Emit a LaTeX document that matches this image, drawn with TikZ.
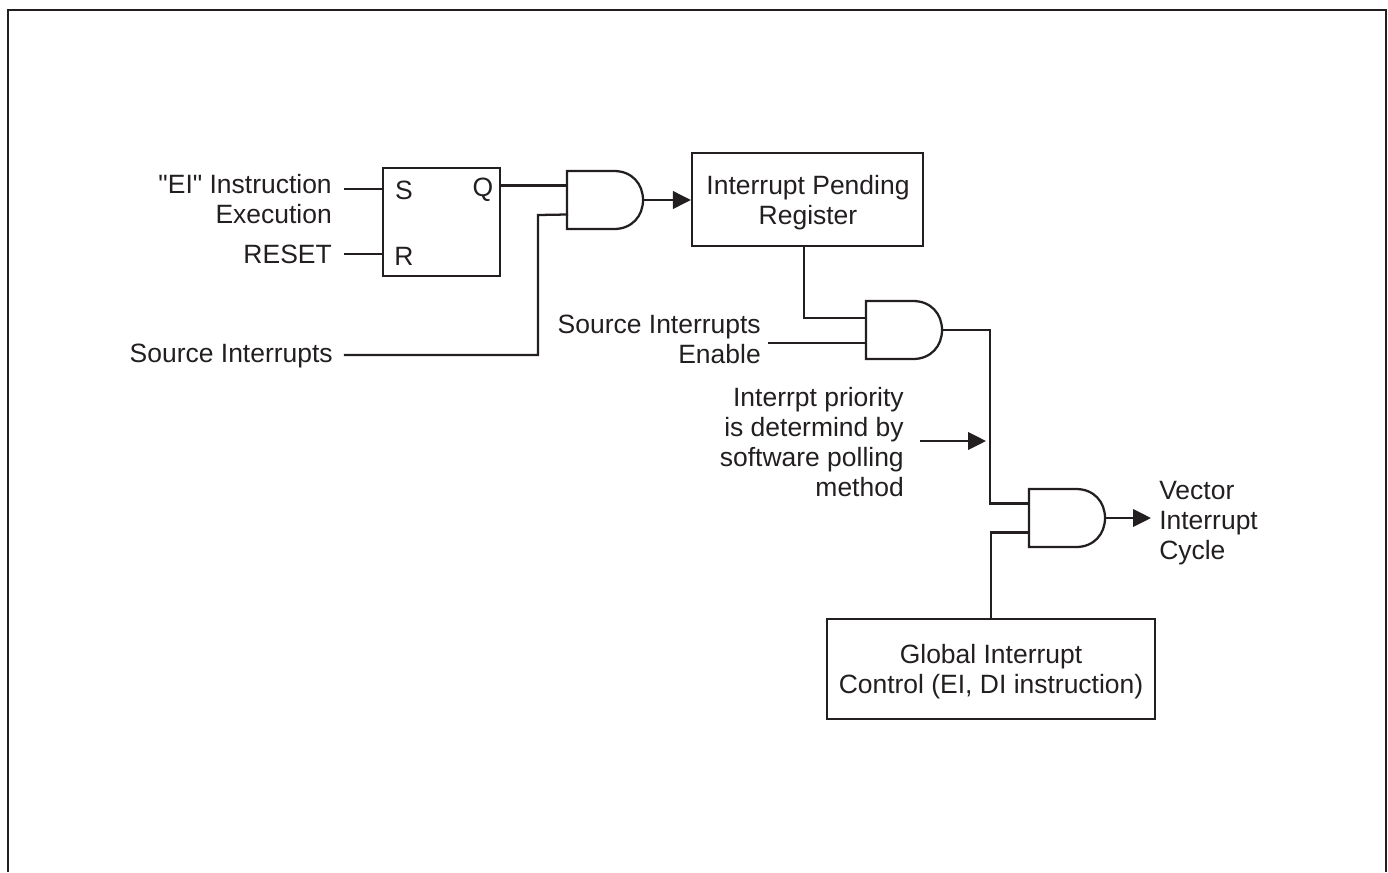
\documentclass[tikz,border=0pt]{standalone}
\usepackage{fontspec}
\setmainfont[Ligatures=TeXOff]{Liberation Sans}
\usetikzlibrary{arrows.meta}
\definecolor{ink}{HTML}{231F20}
\tikzset{
  wire/.style={draw=ink,line width=1.7pt,line cap=rect},
  arrowwire/.style={draw=ink,line width=1.7pt,-{Triangle[length=13.5pt,width=13.2pt]}},
  framel/.style={draw=ink,line width=1.8pt},
  boxn/.style={draw=ink,line width=1.7pt,fill=white,inner sep=0pt,align=center,text=ink,font=\lab},
  lab/.style={inner sep=0pt,text=ink,font=\lab},
}
\newcommand{\lab}{\fontsize{19.85}{22.5}\selectfont}
% name, left x, top y : height 58, width 76
\newcommand{\andgate}[3]{%
  \draw[wire,line join=miter] (#2+47,#3) -- (#2,#3) -- (#2,#3+58) -- (#2+47,#3+58)
    .. controls (#2+65,#3+58) and (#2+76,#3+45) .. (#2+76,#3+29)
    .. controls (#2+76,#3+13) and (#2+65,#3) .. (#2+47,#3) -- cycle;
  \coordinate (#1-a) at (#2,#3+14.5);
  \coordinate (#1-b) at (#2,#3+43.5);
  \coordinate (#1-o) at (#2+76,#3+29);
}
\begin{document}
\begin{tikzpicture}[x=0.75pt,y=-0.75pt]
\useasboundingbox (0,0) rectangle (1388,872);
\coordinate (fa) at (8,872);
\coordinate (fb) at (8,10);
\coordinate (fc) at (1386,10);
\coordinate (fd) at (1386,872);
\draw[framel,line join=miter] (fa) -- (fb) -- (fc) -- (fd);

% boxes
\node[boxn,minimum width=87.75pt,minimum height=81pt] (sr) at (441.5,222) {};
\node[boxn,minimum width=173.25pt,minimum height=69.75pt] (ipr) at (807.5,199.5) {};
\node[lab,align=center] (iprt) at (808,202.5) {Interrupt Pending\\Register};
\node[boxn,minimum width=246pt,minimum height=75pt] (gic) at (991,669) {};
\node[lab,align=center] (gict) at (991,672) {Global Interrupt\\Control (EI, DI instruction)};
\node[lab] (s) at (404,190) {S};
\node[lab] (r) at (404,256) {R};
\node[lab] (q) at (483,190) {Q};

% gates
\andgate{g1}{567}{171}
\andgate{g2}{866}{301}
\andgate{g3}{1029}{489}
\coordinate (g2-a) at (866,318);
\coordinate (g2-b) at (866,343);

% labels
\node[lab,align=right,anchor=east] (ei) at (332,199) {"EI" Instruction\\Execution};
\node[lab,anchor=east] (rst) at (332,254) {RESET};
\node[lab,anchor=east] (si) at (333,356) {Source Interrupts};
\node[lab,align=right,anchor=east] (sie) at (761,339) {Source Interrupts\\Enable};
\node[lab,align=right,anchor=east] (prio) at (904,442) {Interrpt priority\\is determind by\\software polling\\method};
\node[lab,align=left,anchor=west] (vec) at (1159,523) {Vector\\Interrupt\\Cycle};

% free ends
\coordinate (eiend) at (345,189);
\coordinate (rend) at (345,254);
\coordinate (siend) at (345,355);
\coordinate (sieend) at (769,343);
\coordinate (prioend) at (920,441);
\coordinate (priotip) at (986,441);
\coordinate (vectip) at (1151,518);

% connectors
\draw[wire] (eiend) -- (eiend -| sr.west);
\draw[wire] (rend) -- (rend -| sr.west);
\draw[wire] (g1-a -| sr.east) -- (g1-a);
\draw[wire,line join=miter] (siend) -- (538,355) -- (538,215) -- (g1-b);
\draw[arrowwire] (g1-o) -- (g1-o -| ipr.west);
\draw[wire,line join=miter] (804,246) |- (g2-a);
\draw[wire] (sieend) -- (g2-b);
\draw[wire,line join=miter] (g2-o) -| (990,420) |- (g3-a);
\draw[arrowwire] (prioend) -- (priotip);
\draw[wire,line join=miter] (gic.north) |- (g3-b);
\draw[arrowwire] (g3-o) -- (vectip);
\end{tikzpicture}
\end{document}
